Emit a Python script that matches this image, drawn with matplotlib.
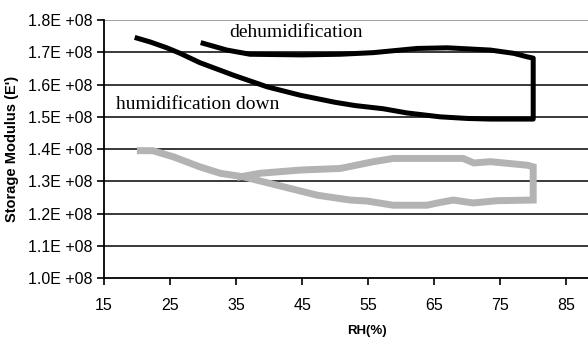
import numpy as np
import matplotlib.pyplot as plt
from matplotlib.ticker import FuncFormatter

# black sample: humidification down, then dehumidification back
black_rh = [20.0, 22.0, 24.5, 26.5, 29.5, 34.6, 39.7, 44.7, 50.0, 53.0, 57.3, 60.9, 65.9, 70.0,
            73.5, 77.0, 80.0, 80.0, 80.0, 79.1, 77.0, 73.5, 67.0, 62.4, 55.8, 50.8, 45.0, 37.1,
            33.6, 30.0]
black_e = [1.744, 1.732, 1.714, 1.697, 1.668, 1.629, 1.593, 1.567, 1.545, 1.535, 1.525, 1.512,
           1.500, 1.495, 1.493, 1.493, 1.493, 1.580, 1.682, 1.686, 1.697, 1.707, 1.714, 1.712,
           1.699, 1.694, 1.692, 1.694, 1.707, 1.728]

# gray sample
gray_rh = [20.5, 22.4, 25.5, 29.5, 32.6, 36.1, 42.2, 47.3, 52.3, 54.8, 58.8, 63.9, 66.0, 67.9,
           70.9, 74.5, 80.0, 80.0, 79.1, 73.5, 71.0, 69.4, 58.8, 55.8, 50.8, 44.7, 38.6, 35.6]
gray_e = [1.395, 1.395, 1.376, 1.345, 1.325, 1.314, 1.283, 1.257, 1.242, 1.239, 1.226, 1.226,
          1.235, 1.242, 1.233, 1.240, 1.242, 1.345, 1.350, 1.361, 1.357, 1.371, 1.371, 1.361,
          1.340, 1.335, 1.325, 1.314]

x_ticks = [15, 25, 35, 45, 55, 65, 75, 85]
y_ticks = [1.0e8, 1.1e8, 1.2e8, 1.3e8, 1.4e8, 1.5e8, 1.6e8, 1.7e8, 1.8e8]

plt.rcParams['font.family'] = ['Liberation Sans Narrow', 'Liberation Sans', 'DejaVu Sans']

fig = plt.figure(figsize=(5.88, 3.4), dpi=100)
ax = fig.add_axes([0.177, 0.182, 0.823, 0.759])

for y in y_ticks[1:]:
    c = '#a0a0a0' if y == 1.8e8 else '#383838'
    ax.axhline(y, color=c, lw=1.4, zorder=0)

ax.plot(gray_rh, np.array(gray_e) * 1e8, color='#b3b3b3', lw=5, solid_joinstyle='miter')
ax.plot(black_rh, np.array(black_e) * 1e8, color='black', lw=3.6)

ax.set_xlim(15, 88.3)
ax.set_ylim(1.0e8, 1.8e8)
ax.set_xticks(x_ticks)
ax.set_yticks(y_ticks)
ax.yaxis.set_major_formatter(FuncFormatter(lambda v, p: f"{v/1e8:.1f}E +08"))
ax.tick_params(direction='out', length=5, width=1.2, labelsize=11.5, colors='black')
ax.tick_params(axis='x', pad=9)
for s in ['top', 'right']:
    ax.spines[s].set_visible(False)
ax.spines['left'].set_linewidth(1.3)
ax.spines['bottom'].set_linewidth(1.3)

ax.text(44.1, 1.76e8, "dehumidification", family='Liberation Serif', fontsize=14,
        ha='center', va='center')
ax.text(16.8, 1.537e8, "humidification down", family='Liberation Serif', fontsize=14,
        ha='left', va='center')

ax.set_xlabel("RH(%)", fontsize=9.5, fontweight='bold')
ax.xaxis.set_label_coords(0.543, -0.18)
ax.set_ylabel("Storage Modulus (E')", fontsize=10.5, fontweight='bold', labelpad=6)

plt.savefig("out.png", dpi=100)
